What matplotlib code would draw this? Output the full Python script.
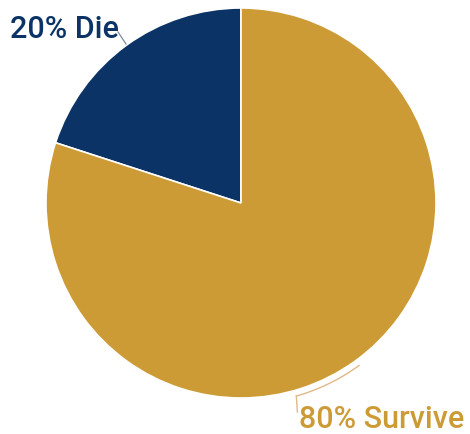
import matplotlib
matplotlib.use("Agg")
import matplotlib.pyplot as plt
import numpy as np

labels = ["20% Die", "80% Survive"]
values = [20, 80]
colors = ["#0B3366", "#CC9B35"]

W, H = 470, 435
fig = plt.figure(figsize=(W / 100, H / 100), dpi=100)
ax = fig.add_axes([0, 0, 1, 1])

cx, cy, r = 241, H - 204, 195
wedges, _ = ax.pie(values, colors=colors, startangle=90, counterclock=True,
                   center=(cx, cy), radius=r, frame=True,
                   wedgeprops=dict(edgecolor="white", linewidth=1.2))
ax.set_xlim(0, W)
ax.set_ylim(0, H)
ax.set_aspect("equal")
ax.axis("off")

fam = ['Roboto', 'DejaVu Sans']

# Label "20% Die"
ax.text(10, H - 38, labels[0], color=colors[0], fontsize=22, fontweight="medium",
        family=fam, ha="left", va="baseline")
ax.plot([118, 126], [H - 33, H - 45], color="#7f8a99", lw=0.9)

# Label "80% Survive"
ax.text(299, H - 428, labels[1], color=colors[1], fontsize=22, fontweight="medium",
        family=fam, ha="left", va="baseline")
ang = np.radians(np.linspace(-74, -54, 30))
rr = r * 1.03
xs = cx + rr * np.cos(ang)
ys = cy + rr * np.sin(ang)
ax.plot(xs, ys, color="#E0B98A", lw=1.0)
ax.plot([xs[0], xs[0] + 1], [ys[0], ys[0] - 16], color="#E0B98A", lw=1.0)

fig.savefig("out.png", dpi=100)
